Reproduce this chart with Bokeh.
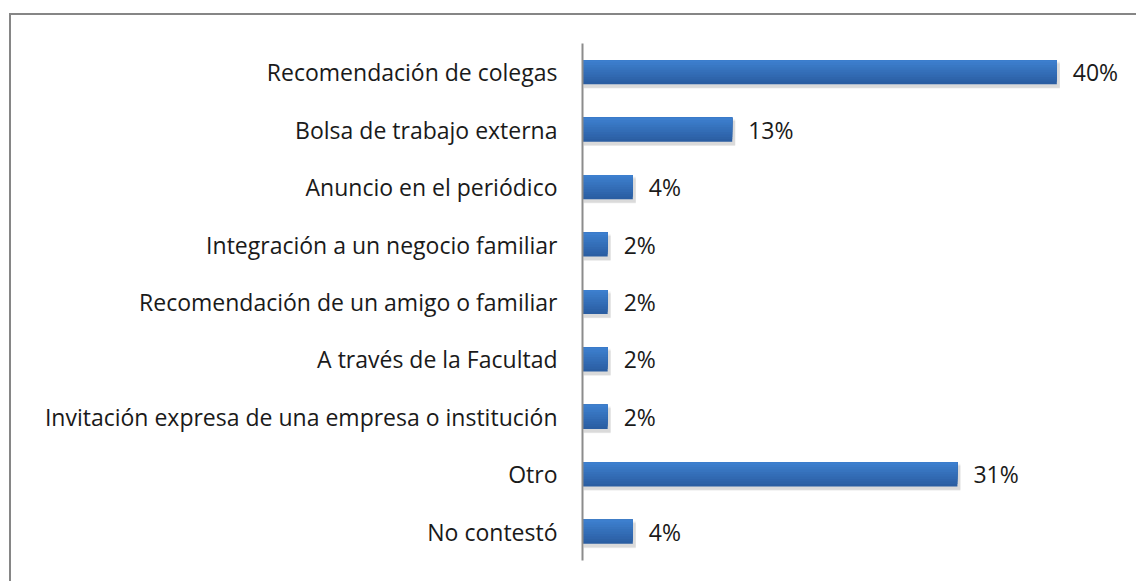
from bokeh.plotting import figure
from bokeh.models import ColumnDataSource, FactorRange
from bokeh.transform import dodge
from bokeh.core.properties import value
from bokeh.embed import file_html
from bokeh.resources import INLINE

categories = [
    "Recomendación de colegas",
    "Bolsa de trabajo externa",
    "Anuncio en el periódico",
    "Integración a un negocio familiar",
    "Recomendación de un amigo o familiar",
    "A través de la Facultad",
    "Invitación expresa de una empresa o institución",
    "Otro",
    "No contestó",
]
values = [39.6, 12.5, 4.2, 2.1, 2.1, 2.1, 2.1, 31.3, 4.2]
labels = ["40%", "13%", "4%", "2%", "2%", "2%", "2%", "31%", "4%"]

FONT = "Open Sans"
FSIZE = "23px"

src = ColumnDataSource(dict(cat=categories, val=values, lab=labels,
                            shadow=[v + 0.25 for v in values]))

p = figure(width=1127, height=568, output_backend="svg", toolbar_location=None,
           y_range=FactorRange(*reversed(categories)), x_range=(0, 45),
           min_border_left=571, min_border_right=17, min_border_top=28,
           min_border_bottom=23,
           styles={"border-top": "2px solid #868686",
                   "border-left": "2px solid #868686",
                   "border-right": "0px none",
                   "border-bottom": "0px none",
                   "margin-left": "9px", "margin-top": "13px"})

p.outline_line_color = None
p.grid.visible = False
p.xaxis.visible = False
p.background_fill_color = "white"
p.border_fill_color = "white"

yax = p.yaxis[0]
yax.axis_line_color = "#8c8c8c"
yax.axis_line_width = 2
yax.major_tick_line_color = None
yax.minor_tick_line_color = None
yax.major_label_standoff = 19
yax.major_label_text_font = FONT
yax.major_label_text_font_size = FSIZE
yax.major_label_text_color = "#1a1a1a"

BAR_H = 0.42

# soft shadow
for i, a in enumerate([0.08, 0.10, 0.14]):
    p.hbar(y=dodge("cat", -0.05 - 0.005 * i, range=p.y_range), left=0.1,
           right="shadow", height=BAR_H + 0.025 * (2 - i), source=src,
           fill_color="#7f7f7f", fill_alpha=a, line_color=None)

# gradient: layered bars anchored at the top edge, dark (full) to light (thin)
top_c = (0x3d, 0x7f, 0xce)
bot_c = (0x2b, 0x5e, 0xa2)
n = 10
for k in range(n):
    t = 1 - k / (n - 1)
    col = "#%02x%02x%02x" % tuple(int(round(top_c[j] + (bot_c[j] - top_c[j]) * t)) for j in range(3))
    h = BAR_H * (n - k) / n
    off = BAR_H / 2 - h / 2
    p.hbar(y=dodge("cat", off, range=p.y_range), left=0, right="val",
           height=h, source=src, fill_color=col, line_color=None)

p.text(x="val", y="cat", text="lab", source=src, x_offset=16,
       text_baseline="middle", text_align="left", text_font=value(FONT),
       text_font_size=FSIZE, text_color="#1a1a1a")

open("out.html", "w").write(file_html(p, INLINE))
